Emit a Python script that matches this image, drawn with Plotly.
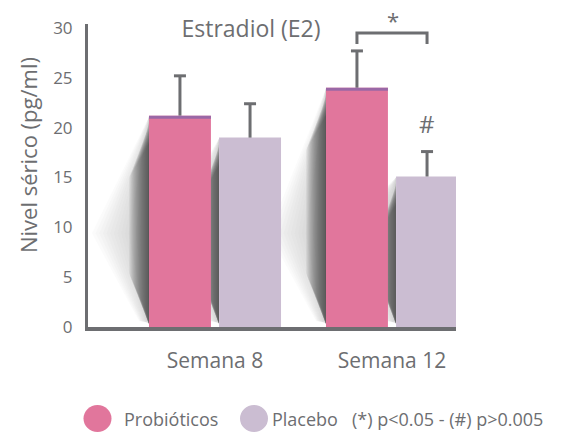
import plotly.graph_objects as go

# ---- data ----
categories = ["Semana 8", "Semana 12"]
series_names = ["Probióticos", "Placebo"]
probioticos = [21.2, 24.0]
placebo = [19.0, 15.1]
probioticos_err = [4.0, 3.7]
placebo_err = [3.4, 2.5]
y_ticks = [0, 5, 10, 15, 20, 25, 30]

title_text = "Estradiol (E2)"
y_title = "Nivel sérico (pg/ml)"
note_text = "(*) p<0.05 - (#) p>0.005"

# ---- style ----
GREY = "#6d6e71"
PINK = "#e1769c"
LAVENDER = "#cbbdd2"
STRIPE = "#9a68a6"
FONT = "Open Sans"

# geometry of the plot area (pixels) and axis ranges
W, H = 586, 433
M_L, M_R, M_T, M_B = 88, 130, 24, 106
X_RANGE = [-0.7175, 1.3616]
Y_RANGE = [0, 30.4]
PLOT_W = W - M_L - M_R
PLOT_H = H - M_T - M_B
PX_X = (X_RANGE[1] - X_RANGE[0]) / PLOT_W   # data units per pixel (x)
PX_Y = (Y_RANGE[1] - Y_RANGE[0]) / PLOT_H   # data units per pixel (y)


def paper_x(px):
    return (px - M_L) / PLOT_W


def paper_y(py):
    return (M_T + PLOT_H - py) / PLOT_H


BAR_W = 0.35
OFFSET = 0.198
CAP_HALF = 6 * PX_X
pos = list(range(len(categories)))
x_prob = [p - OFFSET for p in pos]
x_plac = [p + OFFSET for p in pos]

fig = go.Figure()

fig.add_trace(go.Bar(
    x=x_prob, y=probioticos, width=BAR_W, name=series_names[0],
    marker=dict(color=PINK, line=dict(width=0)), showlegend=False,
))
fig.add_trace(go.Bar(
    x=x_plac, y=placebo, width=BAR_W, name=series_names[1],
    marker=dict(color=LAVENDER, line=dict(width=0)), showlegend=False,
))


def upper_error_trace(xs, vals, errs):
    """One-sided (upper) error bars: stem from bar top plus a cap."""
    ex, ey = [], []
    for x, v, e in zip(xs, vals, errs):
        ex += [x, x, None, x - CAP_HALF, x + CAP_HALF, None]
        ey += [v, v + e, None, v + e, v + e, None]
    return go.Scatter(x=ex, y=ey, mode="lines", hoverinfo="skip",
                      line=dict(color=GREY, width=3), showlegend=False,
                      cliponaxis=False)


fig.add_trace(upper_error_trace(x_prob, probioticos, probioticos_err))
fig.add_trace(upper_error_trace(x_plac, placebo, placebo_err))

shapes = []


def path(points):
    return "M " + " L ".join(f"{x:.5f},{y:.5f}" for x, y in points) + " Z"


def bar_shadow(x_center, value):
    """Soft drop shadow falling to the left of a bar."""
    left = x_center - BAR_W / 2
    apex_y = 9.4
    # light diagonal wedge, built from nested translucent layers
    n = 14
    for i in range(n):
        f = 1.0 - i * (0.9 / n)
        pts = [
            (left, value - 1 * PX_Y),
            (left - 57 * f * PX_X, apex_y),
            (left - 10 * f * PX_X, 0.6),
            (left, 0.4),
        ]
        shapes.append(dict(type="path", path=path(pts), xref="x", yref="y",
                           fillcolor="#a9abae", opacity=0.05,
                           line=dict(width=0), layer="below"))
    # darker band hugging the bar edge, fading in below the top corner
    for w in range(20, 0, -1):
        pts = [
            (left, value - (4 + 1.2 * w) * PX_Y),
            (left - w * PX_X, value - (10 + 2.6 * w) * PX_Y),
            (left - w * PX_X, (10 + 2.2 * w) * PX_Y),
            (left, 3 * PX_Y),
        ]
        shapes.append(dict(type="path", path=path(pts), xref="x", yref="y",
                           fillcolor="#333335", opacity=0.06,
                           line=dict(width=0), layer="below"))


for xc, v in zip(x_prob, probioticos):
    bar_shadow(xc, v)
for xc, v in zip(x_plac, placebo):
    bar_shadow(xc, v)

# darker top edge on the Probióticos bars
for xc, v in zip(x_prob, probioticos):
    shapes.append(dict(type="rect", xref="x", yref="y",
                       x0=xc - BAR_W / 2, x1=xc + BAR_W / 2,
                       y0=v - 3 * PX_Y, y1=v,
                       fillcolor=STRIPE, line=dict(width=0), layer="above"))

# significance bracket over Semana 12
b_y, b_drop = 29.5, 1.1
shapes.append(dict(type="path", xref="x", yref="y",
                   path=(f"M {x_prob[1]},{b_y - b_drop} L {x_prob[1]},{b_y} "
                         f"L {x_plac[1]},{b_y} L {x_plac[1]},{b_y - b_drop}"),
                   line=dict(color=GREY, width=3), layer="above"))

annotations = [
    dict(x=paper_x(393), y=paper_y(20), xref="paper", yref="paper",
         text="*", showarrow=False, xanchor="center", yanchor="middle",
         font=dict(family=FONT, size=22, color=GREY)),
    dict(x=x_plac[1], y=20.4, xref="x", yref="y", text="#", showarrow=False,
         font=dict(family=FONT, size=24, color=GREY)),
    dict(x=paper_x(28), y=paper_y(155), xref="paper",
         yref="paper", text=y_title, textangle=-90, showarrow=False,
         xanchor="center", yanchor="middle",
         font=dict(family=FONT, size=22, color=GREY)),
]

# legend drawn as circles with labels
legend_y = paper_y(418.5)
legend_items = [
    (97.5, PINK, series_names[0], 122),
    (254, LAVENDER, series_names[1], 270),
]
for cx, col, label, tx in legend_items:
    shapes.append(dict(type="circle", xref="paper", yref="paper",
                       xsizemode="pixel", ysizemode="pixel",
                       xanchor=paper_x(cx), yanchor=legend_y,
                       x0=-14, x1=14, y0=-13.5, y1=13.5,
                       fillcolor=col, line=dict(width=0)))
    annotations.append(dict(x=paper_x(tx), y=legend_y, xref="paper",
                            yref="paper", text=label, showarrow=False,
                            xanchor="left", yanchor="middle",
                            font=dict(family=FONT, size=18, color=GREY)))
annotations.append(dict(x=paper_x(350), y=legend_y, xref="paper",
                        yref="paper", text=note_text, showarrow=False,
                        xanchor="left", yanchor="middle",
                        font=dict(family=FONT, size=18, color=GREY)))

fig.update_layout(
    width=W, height=H,
    margin=dict(l=M_L, r=M_R, t=M_T, b=M_B, pad=0),
    paper_bgcolor="white", plot_bgcolor="white",
    font=dict(family=FONT, color=GREY),
    title=dict(text=title_text, x=251 / W, y=1 - 29 / H, xanchor="center",
               yanchor="middle", font=dict(family=FONT, size=23, color=GREY)),
    shapes=shapes, annotations=annotations,
    showlegend=False,
    xaxis=dict(range=X_RANGE, tickvals=pos, ticktext=categories,
               showgrid=False, zeroline=False, showline=True,
               linecolor=GREY, linewidth=4, ticks="",
               ticklabelstandoff=12,
               tickfont=dict(family=FONT, size=21, color=GREY)),
    yaxis=dict(range=Y_RANGE, tickvals=y_ticks, showgrid=False,
               zeroline=False, showline=True, linecolor=GREY, linewidth=3,
               ticks="", ticklabelstandoff=9,
               tickfont=dict(family=FONT, size=17, color=GREY)),
)

fig.write_html("out.html")
